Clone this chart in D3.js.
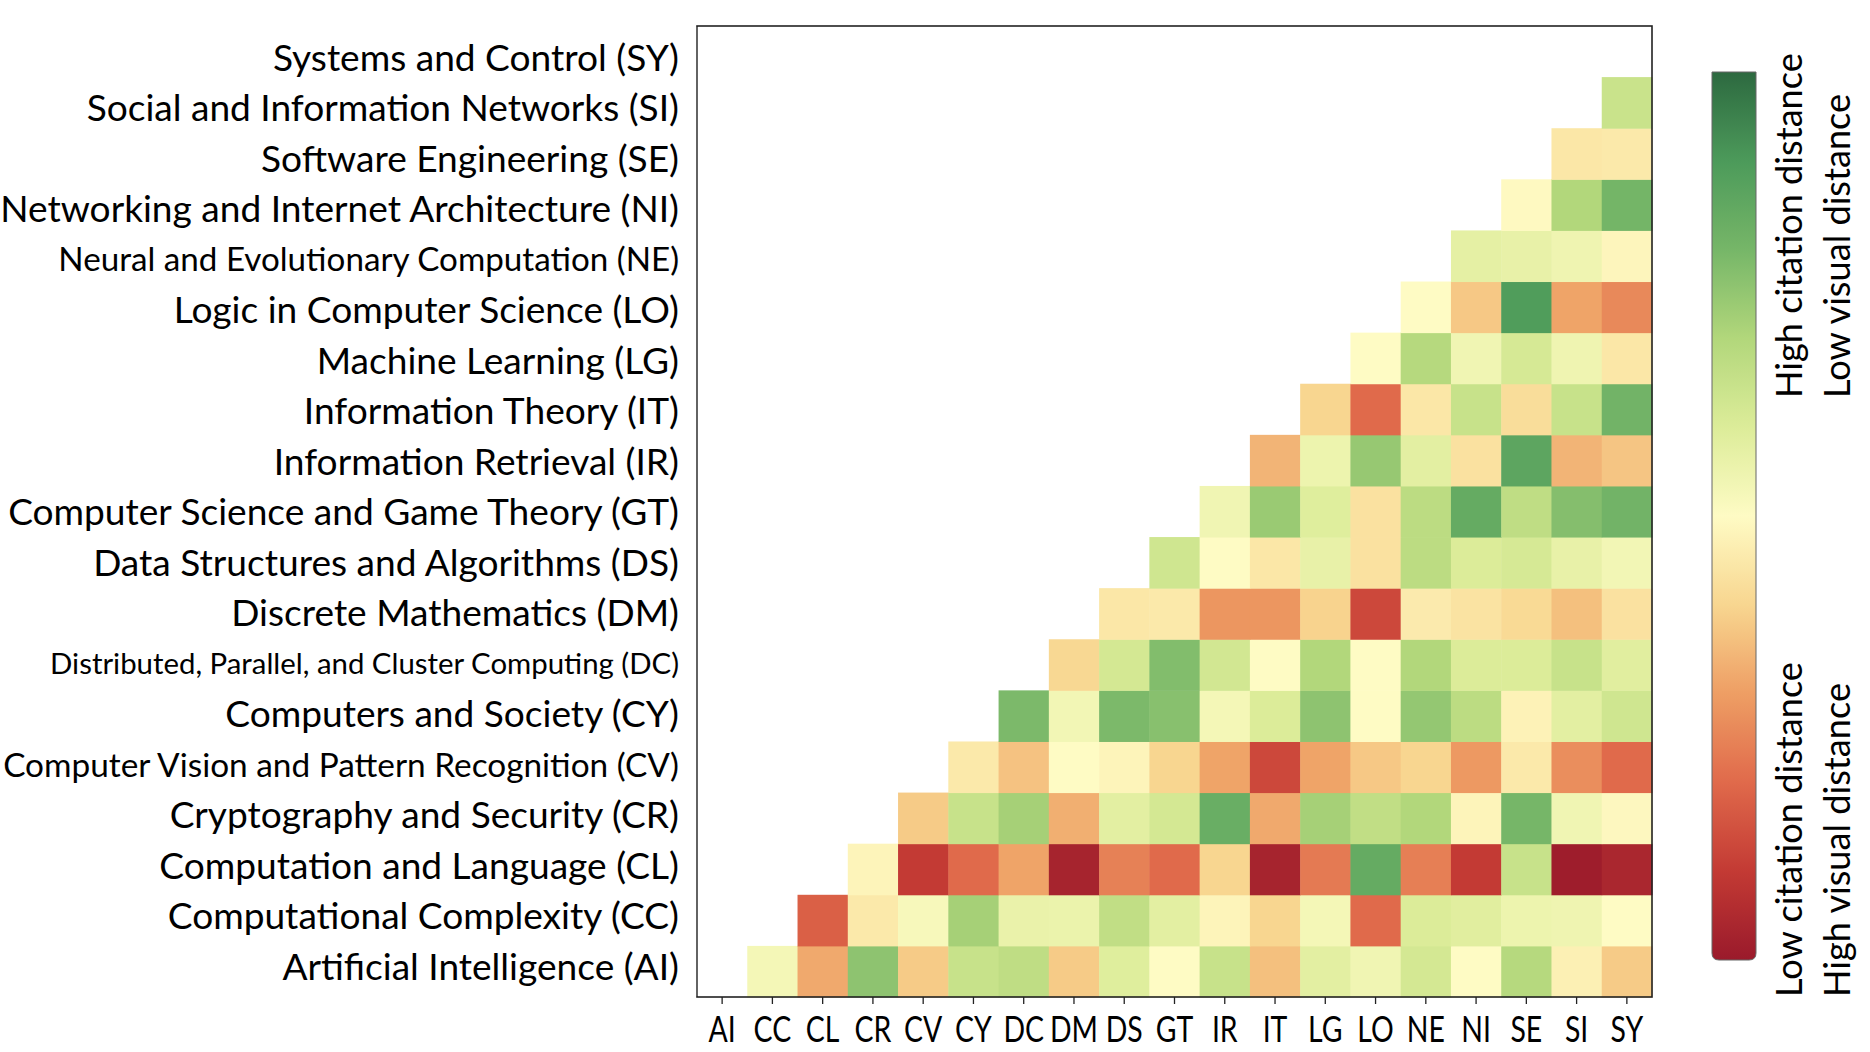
<!DOCTYPE html>
<html>
<head>
<meta charset="utf-8">
<script src="https://cdn.jsdelivr.net/npm/d3@7"></script>
<style>
  html, body { margin: 0; padding: 0; background: #fff; }
  svg { display: block; }
  text { font-family: Lato, "Open Sans", sans-serif; fill: #000; }
</style>
</head>
<body>
<script>
// category codes, bottom-to-top on y, left-to-right on x
var codes = ["AI", "CC", "CL", "CR", "CV", "CY", "DC", "DM", "DS", "GT",
             "IR", "IT", "LG", "LO", "NE", "NI", "SE", "SI", "SY"];

var names = [
  "Artificial Intelligence (AI)",
  "Computational Complexity (CC)",
  "Computation and Language (CL)",
  "Cryptography and Security (CR)",
  "Computer Vision and Pattern Recognition (CV)",
  "Computers and Society (CY)",
  "Distributed, Parallel, and Cluster Computing (DC)",
  "Discrete Mathematics (DM)",
  "Data Structures and Algorithms (DS)",
  "Computer Science and Game Theory (GT)",
  "Information Retrieval (IR)",
  "Information Theory (IT)",
  "Machine Learning (LG)",
  "Logic in Computer Science (LO)",
  "Neural and Evolutionary Computation (NE)",
  "Networking and Internet Architecture (NI)",
  "Software Engineering (SE)",
  "Social and Information Networks (SI)",
  "Systems and Control (SY)"
];

// normalised distance, row i holds columns i+1 .. SY (0 = low citation / high visual)
var upperValues = [
  [0.53, 0.32, 0.76, 0.38, 0.65, 0.67, 0.38, 0.59, 0.50, 0.65, 0.36, 0.58, 0.54, 0.62, 0.50, 0.69, 0.47, 0.38],
  [0.18, 0.45, 0.52, 0.72, 0.56, 0.555, 0.665, 0.58, 0.48, 0.40, 0.53, 0.20, 0.60, 0.585, 0.55, 0.545, 0.50],
  [0.48, 0.10, 0.20, 0.31, 0.03, 0.245, 0.20, 0.40, 0.03, 0.23, 0.84, 0.24, 0.10, 0.65, 0.01, 0.04],
  [0.38, 0.65, 0.72, 0.33, 0.58, 0.62, 0.83, 0.32, 0.72, 0.665, 0.70, 0.48, 0.80, 0.54, 0.49],
  [0.45, 0.365, 0.50, 0.48, 0.40, 0.31, 0.13, 0.31, 0.375, 0.40, 0.29, 0.45, 0.27, 0.20],
  [0.79, 0.535, 0.79, 0.77, 0.53, 0.60, 0.76, 0.50, 0.75, 0.675, 0.475, 0.58, 0.63],
  [0.405, 0.62, 0.78, 0.625, 0.50, 0.70, 0.50, 0.70, 0.60, 0.60, 0.65, 0.585],
  [0.445, 0.45, 0.285, 0.285, 0.395, 0.13, 0.455, 0.435, 0.41, 0.36, 0.43],
  [0.63, 0.50, 0.445, 0.565, 0.43, 0.675, 0.60, 0.615, 0.565, 0.535],
  [0.54, 0.74, 0.59, 0.43, 0.675, 0.84, 0.67, 0.775, 0.81],
  [0.34, 0.55, 0.745, 0.58, 0.43, 0.86, 0.34, 0.37],
  [0.40, 0.20, 0.445, 0.65, 0.42, 0.65, 0.81],
  [0.50, 0.69, 0.54, 0.615, 0.545, 0.445],
  [0.50, 0.375, 0.89, 0.31, 0.26],
  [0.575, 0.565, 0.545, 0.485],
  [0.495, 0.70, 0.805],
  [0.445, 0.45],
  [0.645],
  []
];

var colorbarTop = ["High citation distance", "Low visual distance"];
var colorbarBottom = ["Low citation distance", "High visual distance"];

// colour ramp (muted RdYlGn as in the figure)
var rampDomain = [0, 0.1, 0.2, 0.3, 0.4, 0.5, 0.6, 0.7, 0.8, 0.9, 1];
var rampColors = ["#9a1a2b", "#c33a34", "#e06a4b", "#ee9e64", "#f8d690", "#fefbc4",
                  "#dcec99", "#b2d77b", "#76b668", "#4c9a5a", "#2d6940"];

var width = 1870, height = 1052;
var plot = { left: 697, right: 1652, top: 26, bottom: 997 };
var bar = { x: 1712, w: 44, top: 72, bottom: 960, r: 7 };
var baseFont = 40;
var labelSize = { NE: 35.8, CV: 36, DC: 31.7 };
var fontStack = "Lato, 'Open Sans', sans-serif";

var svg = d3.select("body").append("svg")
  .attr("width", width)
  .attr("height", height);

svg.append("rect").attr("width", width).attr("height", height).attr("fill", "#fff");

function textWidth(str, size) {
  var t = svg.append("text").attr("font-size", size).text(str);
  var w = t.node().getComputedTextLength();
  t.remove();
  return w;
}

// scale the font so the widest label fills its space
var fontScale = 679 / textWidth(names[15], baseFont);
var tickFont = baseFont * fontScale;
// the figure's capitals are narrow: squeeze tick codes so the widest one fits a cell
var tickSqueeze = Math.min(1, 48 / textWidth("DM", tickFont));
var barFont = baseFont * 345 / textWidth(colorbarTop[0], baseFont);

var x = d3.scaleBand().domain(codes).range([plot.left, plot.right]);
var y = d3.scaleBand().domain(codes).range([plot.bottom, plot.top]);
var yLabel = d3.scalePoint().domain(codes).range([966, 57]);
var color = d3.scaleLinear().domain(rampDomain).range(rampColors).interpolate(d3.interpolateRgb);

var cells = [];
upperValues.forEach(function (row, i) {
  row.forEach(function (v, k) {
    cells.push({ row: codes[i], col: codes[i + 1 + k], value: v });
  });
});

svg.append("g").selectAll("rect")
  .data(cells)
  .enter().append("rect")
  .attr("x", function (d) { return x(d.col); })
  .attr("y", function (d) { return y(d.row); })
  .attr("width", x.bandwidth() + 0.5)
  .attr("height", y.bandwidth() + 0.5)
  .attr("fill", function (d) { return color(d.value); });

// frame: left spine drawn lighter, as in the figure
svg.append("rect")
  .attr("x", plot.left).attr("y", plot.top)
  .attr("width", plot.right - plot.left).attr("height", plot.bottom - plot.top)
  .attr("fill", "none").attr("stroke", "#222").attr("stroke-width", 1.6);
svg.append("line")
  .attr("x1", plot.left).attr("x2", plot.left)
  .attr("y1", plot.top + 1).attr("y2", plot.bottom - 1)
  .attr("stroke", "#6a6a6a").attr("stroke-width", 1.6);

// x axis
var xAxis = svg.append("g")
  .attr("transform", "translate(0," + plot.bottom + ")")
  .call(d3.axisBottom(x).tickSize(7).tickSizeOuter(0));
xAxis.select(".domain").remove();
xAxis.selectAll("line").attr("stroke", "#222").attr("stroke-width", 1.3);
xAxis.selectAll("text")
  .attr("y", 0).attr("dy", 0)
  .attr("transform", "translate(0,45) scale(" + tickSqueeze + ",1)")
  .attr("font-size", tickFont)
  .style("font-family", fontStack)
  .attr("fill", "#000");

// y axis labels
var nameOf = {};
codes.forEach(function (c, i) { nameOf[c] = names[i]; });
var yAxis = svg.append("g")
  .attr("transform", "translate(" + plot.left + ",0)")
  .call(d3.axisLeft(yLabel).tickSize(0).tickPadding(18).tickFormat(function (c) { return nameOf[c]; }));
yAxis.select(".domain").remove();
yAxis.selectAll("text")
  .attr("dy", "0.36em")
  .attr("font-size", function (c) { return (labelSize[c] || baseFont) * fontScale; })
  .style("font-family", fontStack)
  .attr("fill", "#000");

// colour bar
var grad = svg.append("defs").append("linearGradient")
  .attr("id", "ramp")
  .attr("x1", 0).attr("y1", 1).attr("x2", 0).attr("y2", 0);
grad.selectAll("stop")
  .data(d3.range(0, 1.0001, 0.02))
  .enter().append("stop")
  .attr("offset", function (d) { return d; })
  .attr("stop-color", function (d) { return color(d); });

var bx0 = bar.x, bx1 = bar.x + bar.w, by0 = bar.top, by1 = bar.bottom, r = bar.r;
var barPath = d3.path();
barPath.moveTo(bx0, by0);
barPath.lineTo(bx1, by0);
barPath.lineTo(bx1, by1 - r);
barPath.quadraticCurveTo(bx1, by1, bx1 - r, by1);
barPath.lineTo(bx0 + r, by1);
barPath.quadraticCurveTo(bx0, by1, bx0, by1 - r);
barPath.closePath();
svg.append("path")
  .attr("d", barPath.toString())
  .attr("fill", "url(#ramp)")
  .attr("stroke", "#666").attr("stroke-width", 1);

function barLabel(lines, startY) {
  lines.forEach(function (t, i) {
    svg.append("text")
      .attr("transform", "translate(" + (1802 + i * 48) + "," + startY + ") rotate(-90)")
      .attr("font-size", barFont)
      .attr("text-anchor", "start")
      .text(t);
  });
}
barLabel(colorbarTop, 398);
barLabel(colorbarBottom, 997);
</script>
</body>
</html>
